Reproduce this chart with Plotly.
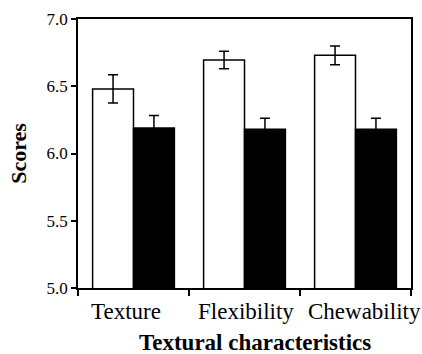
import plotly.graph_objects as go

categories = ["Texture", "Flexibility", "Chewability"]
white_values = [6.48, 6.695, 6.73]
white_errors = [0.105, 0.065, 0.07]
black_values = [6.19, 6.18, 6.18]
black_errors = [0.092, 0.082, 0.082]
y_ticks = [5.0, 5.5, 6.0, 6.5, 7.0]
label_shifts = [-8, 1, 9]

FONT = "Liberation Serif"

fig = go.Figure()
fig.add_trace(go.Bar(
    x=categories, y=white_values,
    marker=dict(color="white", line=dict(color="black", width=1.5)),
    error_y=dict(type="data", array=white_errors, color="black", thickness=1.5, width=5),
    showlegend=False,
))
fig.add_trace(go.Bar(
    x=categories, y=black_values,
    marker=dict(color="black", line=dict(color="black", width=1.5)),
    error_y=dict(type="data", array=black_errors, color="black", thickness=1.5, width=5),
    showlegend=False,
))

fig.update_layout(
    width=422, height=354,
    margin=dict(l=77.5, r=10.5, t=19.3, b=66.3, pad=0, autoexpand=False),
    paper_bgcolor="white", plot_bgcolor="white",
    barmode="group", bargap=0.263, bargroupgap=0,
    font=dict(family=FONT, color="black"),
)
fig.update_xaxes(
    type="category", range=[-0.5, 2.5], automargin=False, showticklabels=False,
    showline=True, linecolor="black", linewidth=1.5, mirror=True,
    ticks="outside", tickson="boundaries", ticklen=6, tickwidth=1.5, tickcolor="black",
    showgrid=False, zeroline=False,
)
fig.update_yaxes(
    range=[5, 7], tickvals=y_ticks, tickformat=".1f", automargin=False,
    showline=True, linecolor="black", linewidth=1.5, mirror=True,
    ticks="outside", ticklen=5, tickwidth=1.5, tickcolor="black",
    tickfont=dict(family=FONT, size=17, color="black"),
    showgrid=False, zeroline=False,
    title=dict(text="<b>Scores</b>", font=dict(family=FONT, size=22, color="black"), standoff=14),
)
for cat, shift in zip(categories, label_shifts):
    fig.add_annotation(
        text=cat, xref="x", yref="paper", x=cat, y=0,
        xanchor="center", yanchor="top", xshift=shift, yshift=-10,
        showarrow=False, borderpad=0,
        font=dict(family=FONT, size=23, color="black"),
    )
fig.add_annotation(
    text="<b>Textural characteristics</b>",
    xref="paper", yref="paper", x=0.531, y=0, xanchor="center", yanchor="bottom",
    yshift=-68, showarrow=False, borderpad=0,
    font=dict(family=FONT, size=23, color="black"),
)

fig.write_html("out.html")
